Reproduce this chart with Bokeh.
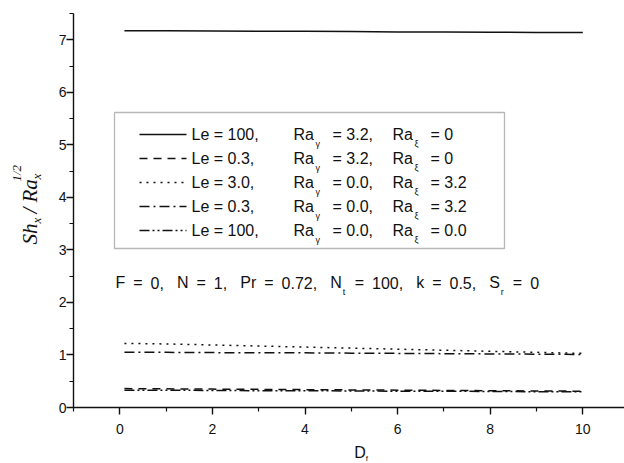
import math
from bokeh.plotting import figure
from bokeh.models import FixedTicker, BoxAnnotation, Range1d
from bokeh.layouts import row, column
from bokeh.core.properties import value
from bokeh.embed import file_html
from bokeh.resources import INLINE

# ---------------- data ----------------
Df = [0.1, 1, 2, 3, 4, 5, 6, 7, 8, 9, 10]
sh_le100_ra32 = [7.17, 7.17, 7.165, 7.16, 7.16, 7.155, 7.15, 7.15, 7.145, 7.14, 7.14]
sh_le03_ra32 = [0.36, 0.355, 0.35, 0.345, 0.34, 0.335, 0.33, 0.325, 0.32, 0.315, 0.31]
sh_le3_rx32 = [1.22, 1.21, 1.19, 1.17, 1.15, 1.13, 1.11, 1.09, 1.07, 1.05, 1.03]
sh_le03_rx32 = [1.05, 1.05, 1.045, 1.04, 1.04, 1.035, 1.03, 1.025, 1.02, 1.015, 1.01]
sh_le100_0 = [0.33, 0.33, 0.325, 0.32, 0.32, 0.315, 0.31, 0.31, 0.305, 0.30, 0.30]

le_labels = ["Le = 100,", "Le = 0.3,", "Le = 3.0,", "Le = 0.3,", "Le = 100,"]
ra_g_labels = ["= 3.2,", "= 3.2,", "= 0.0,", "= 0.0,", "= 0.0,"]
ra_x_labels = ["= 0", "= 0", "= 3.2", "= 3.2", "= 0.0"]
dashes = ["solid", "8 6", "2 5", "10 4 2 4", "10 3 2 3 2 3"]
series = [sh_le100_ra32, sh_le03_ra32, sh_le3_rx32, sh_le03_rx32, sh_le100_0]

# parameter line: (token, subscript)
param_tokens = [("F", ""), ("=", ""), ("0,", ""), ("N", ""), ("=", ""), ("1,", ""),
                ("Pr", ""), ("=", ""), ("0.72,", ""), ("N", "t"), ("=", ""), ("100,", ""),
                ("k", ""), ("=", ""), ("0.5,", ""), ("S", "r"), ("=", ""), ("0", "")]

x_ticks = [0, 2, 4, 6, 8, 10]
x_minor = [-1, 1, 3, 5, 7, 9]
y_ticks = [0, 1, 2, 3, 4, 5, 6, 7]
y_minor = [0.5, 1.5, 2.5, 3.5, 4.5, 5.5, 6.5, 7.5]

INK = "#111111"
SANS = "Liberation Sans"
SERIF = "Liberation Serif"

# Arial / Liberation Sans advance widths (per 1000 em)
ADV = {" ": 278, ",": 278, ".": 278, "=": 584, "F": 611, "N": 722, "P": 667, "r": 333,
       "k": 500, "S": 667, "t": 278}
for d in "0123456789":
    ADV[d] = 556

def tw(s, size):
    return sum(ADV.get(c, 556) for c in s) * size / 1000.0

# ---------------- layout (canvas pixels) ----------------
W, H = 624, 463
LW = 45            # left strip for the y-axis title
BH = 20            # bottom strip for the x-axis title
FL, FR, FT, FB = 73, 624, 13, 407   # frame edges on the canvas
X0, X1, Y0, Y1 = -1.0, 10.9, 0.0, 7.5

def dx(X):
    return X0 + (X - FL) / (FR - FL) * (X1 - X0)

def dy(Y):
    return Y0 + (FB - Y) / (FB - FT) * (Y1 - Y0)

# ---------------- main figure ----------------
p = figure(width=W - LW, height=H - BH, x_range=Range1d(X0, X1), y_range=Range1d(Y0, Y1),
           output_backend="svg", toolbar_location=None,
           min_border_left=FL - LW, min_border_right=W - FR,
           min_border_top=FT, min_border_bottom=(H - BH) - FB)
p.outline_line_color = None
p.grid.visible = False

for ax, t, m in ((p.xaxis[0], x_ticks, x_minor), (p.yaxis[0], y_ticks, y_minor)):
    ax.ticker = FixedTicker(ticks=t, minor_ticks=m)
    ax.major_tick_in = 0
    ax.major_tick_out = 7
    ax.minor_tick_in = 0
    ax.minor_tick_out = 4
    ax.axis_line_width = 1.4
    ax.major_tick_line_width = 1.4
    ax.minor_tick_line_width = 1.2
    ax.axis_line_color = INK
    ax.major_tick_line_color = INK
    ax.minor_tick_line_color = INK
    ax.major_label_text_font = SANS
    ax.major_label_text_font_size = "14px"
    ax.major_label_text_color = INK
p.xaxis.major_label_standoff = 9
p.yaxis.major_label_standoff = 0

for ys, d in zip(series, dashes):
    p.line(Df, ys, line_color=INK, line_width=1.5, line_dash=d)

def t_main(text, X, Y, size):
    p.text(x=[dx(X)], y=[dy(Y)], text=[text], text_font=value(SANS),
           text_font_size=value(f"{size}px"), text_color=INK,
           text_align=value("left"), text_baseline=value("middle"))

# legend
p.add_layout(BoxAnnotation(left=dx(114), right=dx(504), top=dy(112), bottom=dy(248),
                           fill_color=None, line_color=INK, line_width=1.3))
rows_Y = [134, 158, 182, 206, 230]
for i, Yr in enumerate(rows_Y):
    p.line([dx(139), dx(186)], [dy(Yr), dy(Yr)], line_color=INK,
           line_width=1.5, line_dash=dashes[i])
    t_main(le_labels[i], 191, Yr, 16)
    t_main("Ra", 293, Yr, 16)
    t_main("\u03b3", 315, Yr + 9, 9)
    t_main(ra_g_labels[i], 332, Yr, 16)
    t_main("Ra", 392, Yr, 16)
    t_main("\u03be", 414, Yr + 9, 9)
    t_main(ra_x_labels[i], 430, Yr, 16)

# parameter text, spread like the original's wide word spacing
fy, fs = 282, 16
X = 115
for tok, sub in param_tokens:
    t_main(tok, X, fy, fs)
    X += tw(tok, fs)
    if sub:
        t_main(sub, X + 1, fy + 9, 9)
        X += 5
    X += 13 if tok.endswith(",") else 8

# ---------------- left strip: y-axis title ----------------
pl = figure(width=LW, height=H, x_range=Range1d(0, LW), y_range=Range1d(0, H),
            output_backend="svg", toolbar_location=None,
            x_axis_location=None, y_axis_location=None,
            min_border_left=0, min_border_right=0, min_border_top=0, min_border_bottom=0)
pl.outline_line_color = None
pl.grid.visible = False

def t_rot(text, Xc, Y, size):
    pl.text(x=[Xc], y=[H - Y], text=[text], text_font=value(SERIF),
            text_font_style=value("italic"), text_font_size=value(f"{size}px"),
            text_color=INK, angle=math.pi / 2, text_align=value("left"),
            text_baseline=value("middle"))

t_rot("Sh", 29, 244, 21)
t_rot("x", 36, 223, 13)
t_rot("/", 29, 213, 21)
t_rot("Ra", 29, 202, 21)
t_rot("x", 36, 179, 13)
t_rot("1/2", 16, 181, 13)

# ---------------- bottom strip: x-axis title ----------------
pb = figure(width=W - LW, height=BH, x_range=Range1d(LW, W), y_range=Range1d(0, BH),
            output_backend="svg", toolbar_location=None,
            x_axis_location=None, y_axis_location=None,
            min_border_left=0, min_border_right=0, min_border_top=0, min_border_bottom=0)
pb.outline_line_color = None
pb.grid.visible = False
pb.text(x=[340], y=[H - 452], text=["D"], text_font=value(SANS),
        text_font_size=value("16px"), text_color=INK,
        text_align=value("left"), text_baseline=value("middle"))
pb.text(x=[352], y=[H - 458], text=["f"], text_font=value(SANS),
        text_font_size=value("8px"), text_color=INK,
        text_align=value("left"), text_baseline=value("middle"))

layout = row(pl, column(p, pb))
open("out.html", "w").write(file_html(layout, INLINE))
